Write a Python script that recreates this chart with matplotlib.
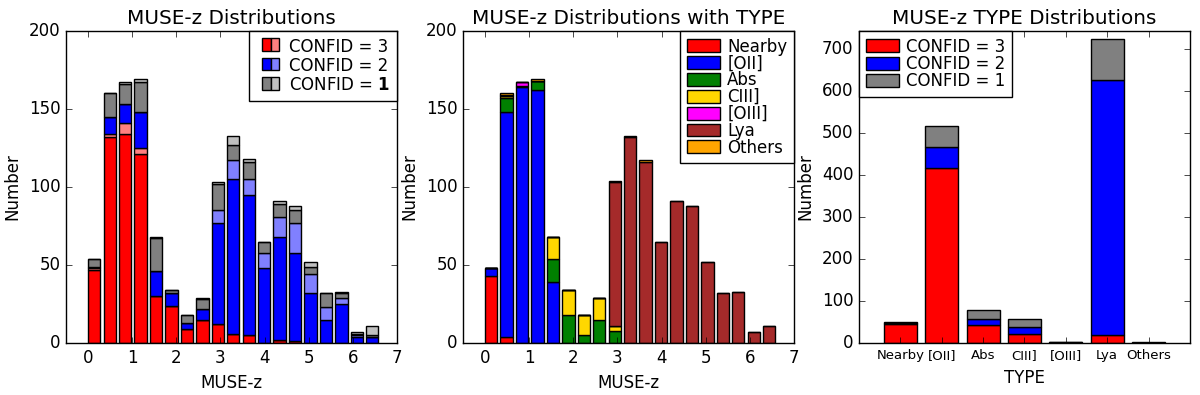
"""MUSE-z histograms split by CONFID and by line TYPE."""

from __future__ import annotations

import matplotlib

matplotlib.use("Agg")
import matplotlib.pyplot as plt
import numpy as np
from matplotlib.patches import Patch, Rectangle

# redshift bins (left edges), width 0.35
z_left = np.arange(19) * 0.35

# panel 1: counts per bin by CONFID (dark / light shades)
c3_dark = [47, 132, 134, 121, 30, 24, 9, 15, 12, 6, 5, 0, 2, 1, 0, 0, 0, 0, 0]
c3_light = [1, 2, 7, 4, 0, 0, 0, 0, 0, 0, 0, 0, 0, 0, 0, 0, 0, 0, 0]
c2_dark = [1, 11, 12, 23, 16, 8, 4, 7, 65, 99, 90, 48, 66, 57, 32, 15, 25, 4, 4]
c2_light = [0, 0, 0, 0, 0, 0, 0, 0, 8, 12, 10, 10, 13, 19, 12, 8, 4, 1, 0]
c1_dark = [5, 15, 13, 19, 21, 2, 5, 6, 17, 10, 11, 7, 8, 8, 5, 9, 3, 1, 1]
c1_light = [0, 0, 1, 2, 1, 0, 0, 1, 1, 6, 2, 0, 2, 3, 3, 0, 1, 1, 6]

# panel 2: counts per bin by TYPE
t_nearby = [43, 4, 0, 0, 0, 0, 0, 0, 0, 0, 0, 0, 0, 0, 0, 0, 0, 0, 0]
t_oii = [5, 144, 164, 162, 39, 0, 0, 0, 0, 0, 0, 0, 0, 0, 0, 0, 0, 0, 0]
t_abs = [0, 9, 1, 6, 15, 18, 5, 15, 8, 0, 0, 0, 0, 0, 0, 0, 0, 0, 0]
t_ciii = [0, 1, 0, 0, 14, 16, 13, 14, 3, 0, 0, 0, 0, 0, 0, 0, 0, 0, 0]
t_oiii = [0, 0, 2, 0, 0, 0, 0, 0, 0, 0, 0, 0, 0, 0, 0, 0, 0, 0, 0]
t_lya = [0, 1, 0, 0, 0, 0, 0, 0, 92, 132, 116, 65, 91, 88, 52, 32, 33, 7, 11]
t_others = [0, 1, 0, 1, 0, 0, 0, 0, 1, 1, 1, 0, 0, 0, 0, 0, 0, 0, 0]

# panel 3: totals per TYPE by CONFID
types = ["Nearby", "[OII]", "Abs", "CIII]", "[OIII]", "Lya", "Others"]
type_c3 = [46, 417, 42, 22, 1, 20, 0]
type_c2 = [2, 50, 14, 17, 1, 606, 1]
type_c1 = [1, 50, 22, 19, 0, 99, 1]


class SplitPatch:
    """Legend handle drawn as a dark and a light half, right-aligned in the box."""

    def __init__(self, frac=0.6):
        self.frac = frac

    def legend_artist(self, legend, orig_handle, fontsize, handlebox):
        dark, light = orig_handle
        x0, y0 = handlebox.xdescent, handlebox.ydescent
        w, h = handlebox.width, handlebox.height
        pw = w * self.frac
        left = x0 + w - pw
        r1 = Rectangle((left, y0), pw / 2, h, fc=dark, ec="black", lw=1,
                       transform=handlebox.get_transform())
        r2 = Rectangle((left + pw / 2, y0), pw / 2, h, fc=light, ec="black", lw=1,
                       transform=handlebox.get_transform())
        handlebox.add_artist(r1)
        handlebox.add_artist(r2)
        return r1


def stack(ax, x, layers, colors, width, align):
    bottom = np.zeros(len(x))
    for vals, col in zip(layers, colors):
        vals = np.asarray(vals, dtype=float)
        ax.bar(x, vals, width, bottom=bottom, color=col, edgecolor="black",
               linewidth=1, align=align)
        bottom += vals


def main() -> None:
    plt.style.use("classic")
    plt.rcParams["mathtext.fontset"] = "dejavusans"
    fig = plt.figure(figsize=(12, 3.95), dpi=100, facecolor="white")
    ax1 = fig.add_axes([0.055, 0.1316, 0.2758, 0.79])
    ax2 = fig.add_axes([0.3858, 0.1316, 0.2758, 0.79])
    ax3 = fig.add_axes([0.7158, 0.1316, 0.2758, 0.79])

    # --- CONFID split
    shades = ["red", "#ff8080", "blue", "#8080ff", "gray", "#c0c0c0"]
    stack(ax1, z_left, [c3_dark, c3_light, c2_dark, c2_light, c1_dark, c1_light],
          shades, 0.28, "edge")
    pairs = [(shades[i], shades[i + 1]) for i in (0, 2, 4)]
    ax1.legend(pairs, ["CONFID = 3", "CONFID = 2", r"CONFID = $\mathbf{1}$"],
               handler_map={tuple: SplitPatch(0.73)},
               loc="upper right", borderaxespad=0, handlelength=1.4,
               handleheight=0.8, handletextpad=0.6, labelspacing=0.08, fontsize=12)
    ax1.set_title("MUSE-z Distributions", fontsize=14.4)

    # --- TYPE split
    tcols = ["red", "blue", "green", "gold", "magenta", "brown", "orange"]
    stack(ax2, z_left, [t_nearby, t_oii, t_abs, t_ciii, t_oiii, t_lya, t_others],
          tcols, 0.28, "edge")
    ax2.legend([Patch(fc=c, ec="black") for c in tcols], types,
               loc="upper right", borderaxespad=0, handlelength=2.0,
               handleheight=0.8, handletextpad=0.4, labelspacing=-0.07, fontsize=12)
    ax2.set_title("MUSE-z Distributions with TYPE", fontsize=14.4)

    for ax in (ax1, ax2):
        ax.set_xlim(-0.5, 7)
        ax.set_ylim(0, 200)
        ax.set_xticks(range(8))
        ax.set_yticks([0, 50, 100, 150, 200])
        ax.set_xlabel("MUSE-z")
        ax.set_ylabel("Number")

    # --- totals per TYPE
    pos = np.arange(len(types))
    stack(ax3, pos, [type_c3, type_c2, type_c1], ["red", "blue", "gray"], 0.8, "center")
    ax3.legend([Patch(fc=c, ec="black") for c in ("red", "blue", "gray")],
               ["CONFID = 3", "CONFID = 2", "CONFID = 1"],
               loc="upper left", borderaxespad=0, handlelength=2.0,
               handleheight=0.8, handletextpad=0.4, labelspacing=-0.04, fontsize=12)
    ax3.set_xlim(-1, 7)
    ax3.set_ylim(0, 743)
    ax3.set_xticks(pos)
    ax3.set_xticklabels(types, fontsize=9.5)
    ax3.set_yticks(range(0, 800, 100))
    ax3.set_xlabel("TYPE")
    ax3.set_ylabel("Number")
    ax3.set_title("MUSE-z TYPE Distributions", fontsize=14.4)

    fig.savefig("out.png", dpi=100, facecolor="white")


if __name__ == "__main__":
    main()
